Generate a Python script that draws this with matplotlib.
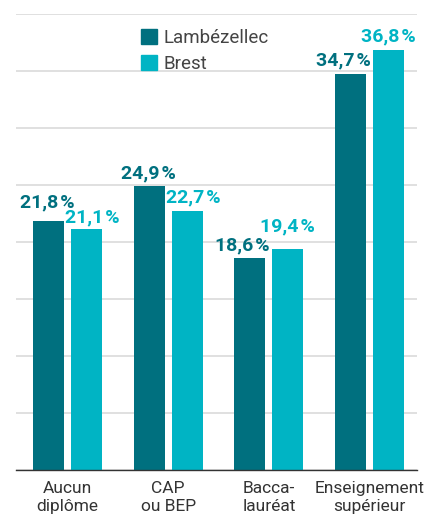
import matplotlib
matplotlib.use('Agg')
import matplotlib.pyplot as plt
import numpy as np
from matplotlib.patches import Patch

plt.rcParams['font.family'] = ['Roboto', 'DejaVu Sans']

categories = ['Aucun\ndiplôme', 'CAP\nou BEP', 'Bacca-\nlauréat', 'Enseignement\nsupérieur']
series_names = ['Lambézellec', 'Brest']
lambezellec = [21.8, 24.9, 18.6, 34.7]
brest = [21.1, 22.7, 19.4, 36.8]

C_DARK = '#00707f'
C_LIGHT = '#00b4c4'

# label nudges (pixels) to avoid overlaps, like the original
nudge_dark = [(-1, 14), (-1, 8), (-8, 8), (-7, 9)]
nudge_light = [(6, 7), (6, 9), (0, 17), (0, 9)]


def fmt(v):
    return f'{v:.1f}'.replace('.', ',') + '\u200a%'


fig = plt.figure(figsize=(4.25, 5.16), dpi=100)
ax = fig.add_axes([0.0376, 0.0891, 0.9435, 0.8838])

x = np.arange(len(categories))
w = 0.308
off = 0.189
b1 = ax.bar(x - off, lambezellec, w, color=C_DARK, zorder=3)
b2 = ax.bar(x + off, brest, w, color=C_LIGHT, zorder=3)

for bars, vals, col, nud in [(b1, lambezellec, C_DARK, nudge_dark),
                             (b2, brest, C_LIGHT, nudge_light)]:
    for rect, v, (dx, dy) in zip(bars, vals, nud):
        ax.annotate(fmt(v), (rect.get_x() + rect.get_width() / 2, v),
                    xytext=(dx, dy), textcoords='offset pixels',
                    ha='center', va='baseline', fontsize=14,
                    fontweight='bold', color=col, zorder=4)

ax.set_ylim(0, 40)
ax.set_xlim(-0.51, 3.47)
ax.set_yticks(np.arange(0, 41, 5))
ax.yaxis.grid(True, color='#dddddd', lw=1.3, zorder=0)
ax.tick_params(axis='y', length=0, labelleft=False)
ax.set_xticks(x)
ax.set_xticklabels(categories, fontsize=12.5, color='#333333')
ax.tick_params(axis='x', length=0, pad=8)
for s in ['top', 'right', 'left']:
    ax.spines[s].set_visible(False)
ax.spines['bottom'].set_color('#333333')
ax.spines['bottom'].set_linewidth(1.0)
ax.spines['bottom'].set_zorder(5)

handles = [Patch(color=C_DARK, label=series_names[0]),
           Patch(color=C_LIGHT, label=series_names[1])]
ax.legend(handles=handles, loc='upper left', bbox_to_anchor=(0.27, 1.005),
          frameon=False, fontsize=13.5, handlelength=0.85, handleheight=0.85,
          handletextpad=0.35, labelspacing=0.45, labelcolor='#444444')

fig.savefig('out.png', dpi=100)
